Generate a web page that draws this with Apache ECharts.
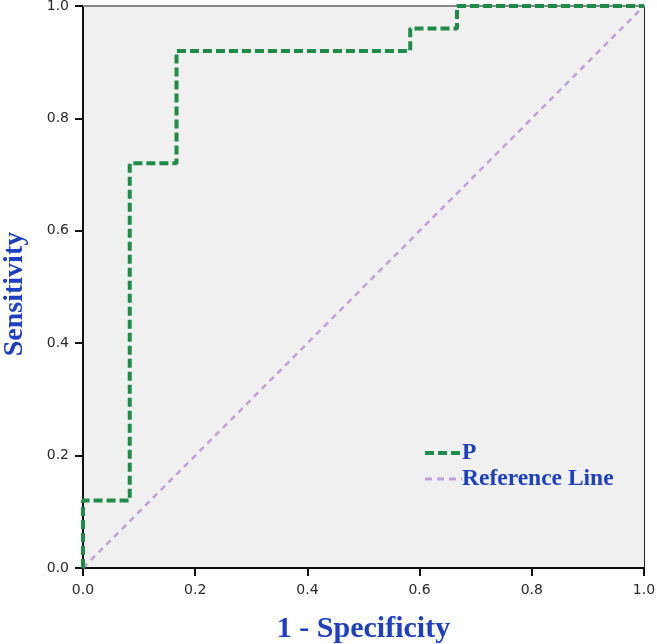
<!DOCTYPE html>
<html>
<head>
<meta charset="utf-8">
<script src="https://cdn.jsdelivr.net/npm/echarts@6/dist/echarts.min.js"></script>
<style>html,body{margin:0;padding:0;background:#fff}#c{width:657px;height:644px}</style>
</head>
<body>
<div id="c"></div>
<script>
// ROC curve corner points (1 - specificity, sensitivity)
var rocFpr = [0, 0, 0.0833, 0.0833, 0.1667, 0.1667, 0.5833, 0.5833, 0.6667, 0.6667, 1.0];
var rocTpr = [0, 0.12, 0.12, 0.72, 0.72, 0.92, 0.92, 0.96, 0.96, 1.0, 1.0];
var refX = [0, 1];
var refY = [0, 1];
var tickLabels = ['0.0', '0.2', '0.4', '0.6', '0.8', '1.0'];
var seriesNames = ['P', 'Reference Line'];

var rocData = rocFpr.map(function (x, i) { return [x, rocTpr[i]]; });
var refData = refX.map(function (x, i) { return [x, refY[i]]; });

var blue = '#1c3fc4';
var green = '#1d8c47';
var lavender = '#c0a0d8';
var labelStyle = { fontFamily: 'DejaVu Sans', fontSize: 14, color: '#2a2a2a' };

var chart = echarts.init(document.getElementById('c'), null, { renderer: 'canvas' });
chart.setOption({
  animation: false,
  backgroundColor: '#fff',
  grid: { left: 83, right: 13, top: 6, bottom: 76, show: true, backgroundColor: '#f0f0f0', borderWidth: 0,
          containLabel: false, outerBoundsMode: 'none' },
  legend: {
    orient: 'vertical', left: 418, top: 436,
    itemWidth: 37, itemHeight: 14, itemGap: 2,
    data: [
      { name: seriesNames[0], lineStyle: { width: 4, type: [9, 4], color: green } },
      { name: seriesNames[1], lineStyle: { width: 3, type: [7, 5], color: lavender } }
    ],
    itemStyle: { opacity: 0 },
    textStyle: { fontFamily: 'Liberation Serif', fontWeight: 'bold', fontSize: 23.5, color: blue, padding: [0, 0, 0, -5] }
  },
  xAxis: [{
    type: 'value', min: 0, max: 1, interval: 0.2, position: 'bottom',
    name: '1 - Specificity', nameLocation: 'middle', nameGap: 46,
    nameTextStyle: { fontFamily: 'Liberation Serif', fontWeight: 'bold', fontSize: 30, color: blue },
    axisLine: { show: true, onZero: false, lineStyle: { color: '#111', width: 2 } },
    axisTick: { show: true, length: 8, lineStyle: { color: '#111', width: 2 } },
    axisLabel: Object.assign({ margin: 15, formatter: function (v) { return tickLabels[Math.round(v * 5)]; } }, labelStyle),
    splitLine: { show: false }
  }, {
    type: 'value', min: 0, max: 1, position: 'top',
    axisLine: { show: true, onZero: false, lineStyle: { color: '#888', width: 2 } },
    axisTick: { show: false }, axisLabel: { show: false }, splitLine: { show: false }
  }],
  yAxis: [{
    type: 'value', min: 0, max: 1, interval: 0.2, position: 'left',
    name: 'Sensitivity', nameLocation: 'middle', nameGap: 54,
    nameTextStyle: { fontFamily: 'Liberation Serif', fontWeight: 'bold', fontSize: 28, color: blue, padding: [0, 14, 0, 0] },
    axisLine: { show: true, onZero: false, lineStyle: { color: '#111', width: 2 } },
    axisTick: { show: true, length: 8, lineStyle: { color: '#111', width: 2 } },
    axisLabel: Object.assign({ margin: 14, formatter: function (v) { return tickLabels[Math.round(v * 5)]; } }, labelStyle),
    splitLine: { show: false }
  }, {
    type: 'value', min: 0, max: 1, position: 'right',
    axisLine: { show: true, onZero: false, lineStyle: { color: '#222', width: 1 } },
    axisTick: { show: false }, axisLabel: { show: false }, splitLine: { show: false }
  }],
  series: [{
    name: seriesNames[1], type: 'line', data: refData, symbol: 'none', clip: false,
    lineStyle: { color: lavender, width: 2.5, type: [6, 5] },
    itemStyle: { color: lavender }, z: 2
  }, {
    name: seriesNames[0], type: 'line', data: rocData, symbol: 'none', clip: false,
    lineStyle: { color: green, width: 4, type: [9, 4] },
    itemStyle: { color: green }, z: 3
  }]
});
</script>
</body>
</html>
